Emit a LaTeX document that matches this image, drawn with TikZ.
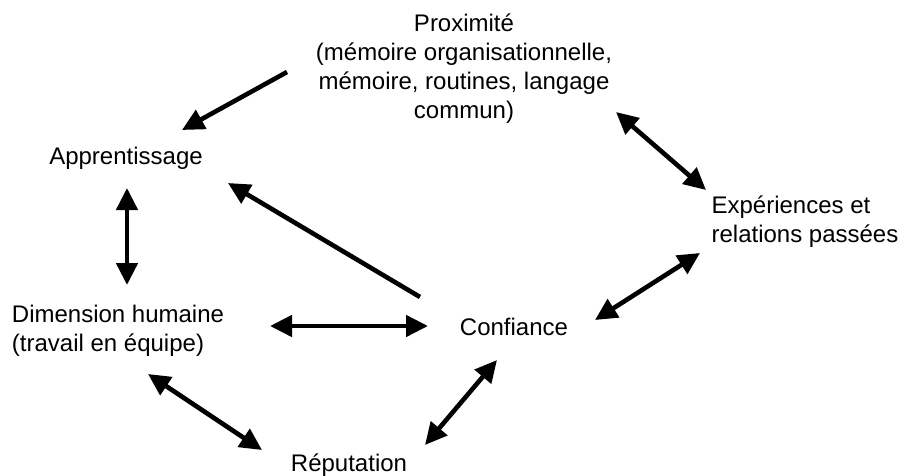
\documentclass[tikz,border=0pt]{standalone}
\usepackage{fontspec}
\setmainfont{Liberation Sans}
\usetikzlibrary{calc,arrows.meta}

\tikzset{
  lbl/.style={inner sep=0pt, align=center, font=\fontsize{24}{29}\selectfont},
  lblleft/.style={lbl, align=left},
  onearr/.style={line width=4.6pt, -{Triangle[length=22pt,width=21pt]}},
  twoarr/.style={line width=4.6pt, {Triangle[length=22pt,width=21pt]}-{Triangle[length=22pt,width=21pt]}}
}

\begin{document}
\begin{tikzpicture}[x=1pt,y=-1pt]
			%%%%% START %%%%%
			\useasboundingbox (0,0) rectangle (907,476);
			
			\node[lbl] (prox) at (464,69) {Proximit\'e\\(m\'emoire organisationnelle,\\m\'emoire, routines, langage\\commun)};
			\node[lbl] (app) at (126,158) {Apprentissage};
			\node[lblleft] (exp) at (805,222) {Exp\'eriences et\\relations pass\'ees};
			\node[lblleft] (dim) at (118,331) {Dimension humaine\\(travail en \'equipe)};
			\node[lbl] (conf) at (514,327) {Confiance};
			\node[lbl] (rep) at (349,465) {R\'eputation};
			
			\draw[onearr] ($(prox)+(-177,3)$) -- ($(app)+(56,-28)$);
			\draw[twoarr] ($(prox)+(152,43)$) -- ($(exp)+(-99,-32)$);
			\draw[twoarr] ($(app)+(1,30)$) -- ($(dim)+(9,-46)$);
			\draw[onearr] ($(conf)+(-94,-30)$) -- ($(app)+(102,25)$);
			\draw[twoarr] ($(dim)+(152,-5)$) -- ($(conf)+(-86,-1)$);
			\draw[twoarr] ($(conf)+(81,-7)$) -- ($(exp)+(-105,31)$);
			\draw[twoarr] ($(dim)+(30,43)$) -- ($(rep)+(-87,-15)$);
			\draw[twoarr] ($(rep)+(76,-20)$) -- ($(conf)+(-17,33)$);
			
			%%%%% END %%%%%
\end{tikzpicture}
\end{document}
